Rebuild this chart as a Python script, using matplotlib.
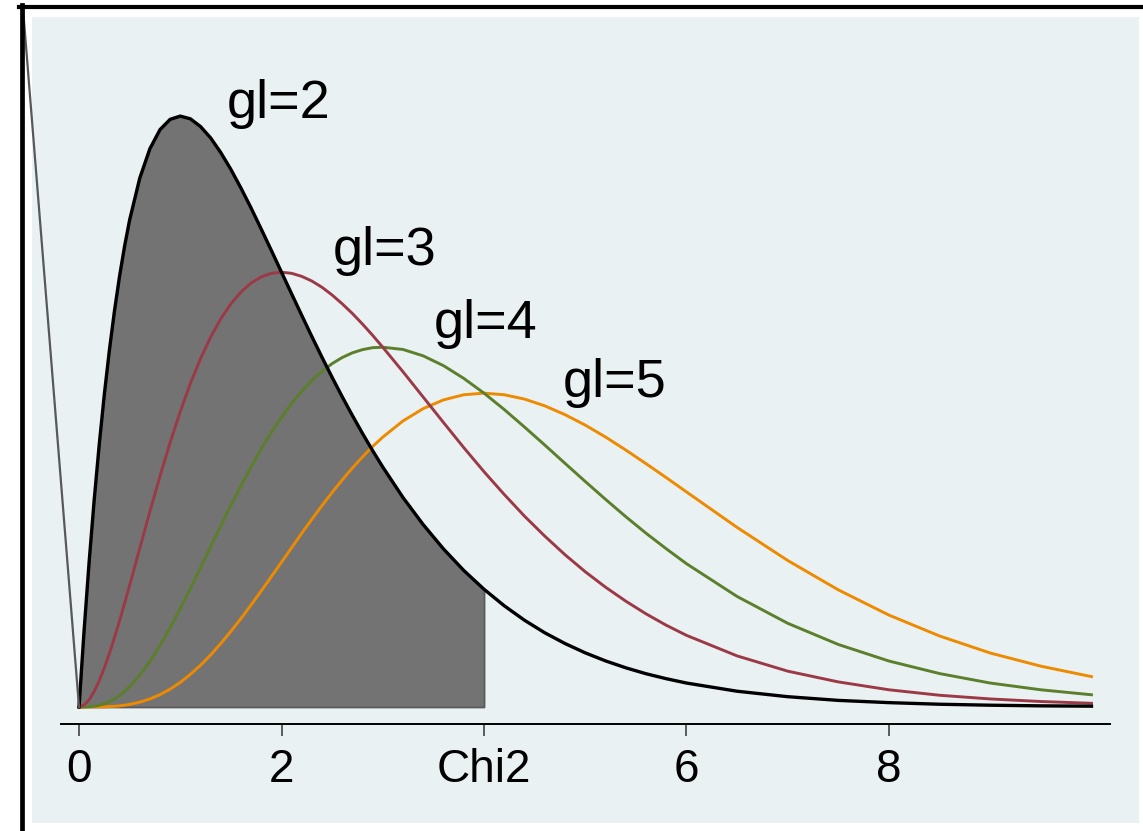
import numpy as np
import matplotlib
matplotlib.use("Agg")
import matplotlib.pyplot as plt
from matplotlib.patches import Rectangle
from matplotlib.lines import Line2D

plt.rcParams['font.family'] = ['Liberation Sans', 'DejaVu Sans']

# values (density scale, x from 0 to 10)
x = [0.0, 0.05, 0.1, 0.15, 0.2, 0.25, 0.3, 0.35, 0.4, 0.45, 0.5,
     0.6, 0.7, 0.8, 0.9, 1.0, 1.1, 1.2, 1.3, 1.4, 1.5, 1.6, 1.7, 1.8, 1.9,
     2.0, 2.1, 2.2, 2.3, 2.4, 2.5, 2.6, 2.7, 2.8, 2.9, 3.0,
     3.2, 3.4, 3.6, 3.8, 4.0, 4.2, 4.4, 4.6, 4.8, 5.0, 5.2, 5.4, 5.6, 5.8, 6.0,
     6.5, 7.0, 7.5, 8.0, 8.5, 9.0, 9.5, 10.0]
gl2 = [0.0, 0.0476, 0.0905, 0.1291, 0.1637, 0.1947, 0.2222, 0.2466, 0.2681, 0.2869, 0.3033,
       0.3293, 0.3476, 0.3595, 0.3659, 0.3679, 0.3662, 0.3614, 0.3543, 0.3452, 0.3347,
       0.3230, 0.3106, 0.2975, 0.2842, 0.2707, 0.2572, 0.2438, 0.2306, 0.2177, 0.2052,
       0.1931, 0.1815, 0.1703, 0.1596, 0.1494,
       0.1304, 0.1135, 0.0984, 0.0850, 0.0733, 0.0630, 0.0540, 0.0462, 0.0395, 0.0337,
       0.0287, 0.0244, 0.0207, 0.0176, 0.0149,
       0.0098, 0.0064, 0.0041, 0.0027, 0.0017, 0.0011, 0.0007, 0.0005]
gl3 = [0.0, 0.0012, 0.0045, 0.0097, 0.0164, 0.0243, 0.0333, 0.0432, 0.0536, 0.0646, 0.0758,
       0.0988, 0.1217, 0.1438, 0.1647, 0.1839, 0.2014, 0.2169, 0.2303, 0.2417, 0.2510,
       0.2584, 0.2640, 0.2678, 0.2700, 0.2707, 0.2700, 0.2681, 0.2652, 0.2613, 0.2565,
       0.2510, 0.2450, 0.2384, 0.2314, 0.2240,
       0.2087, 0.1929, 0.1771, 0.1615, 0.1465, 0.1323, 0.1188, 0.1064, 0.0948, 0.0842,
       0.0746, 0.0659, 0.0580, 0.0509, 0.0446,
       0.0318, 0.0223, 0.0156, 0.0107, 0.0073, 0.0050, 0.0034, 0.0023]
gl4 = [0.0, 0.0, 0.0002, 0.0005, 0.0011, 0.0020, 0.0033, 0.0050, 0.0072, 0.0097, 0.0126,
       0.0198, 0.0284, 0.0383, 0.0494, 0.0613, 0.0738, 0.0867, 0.0998, 0.1128, 0.1255,
       0.1378, 0.1496, 0.1607, 0.1710, 0.1804, 0.1890, 0.1966, 0.2033, 0.2090, 0.2138,
       0.2176, 0.2205, 0.2225, 0.2237, 0.2240,
       0.2226, 0.2186, 0.2125, 0.2046, 0.1954, 0.1852, 0.1743, 0.1631, 0.1517, 0.1404,
       0.1293, 0.1185, 0.1082, 0.0985, 0.0892,
       0.0688, 0.0521, 0.0389, 0.0286, 0.0208, 0.0149, 0.0107, 0.0076]
gl5 = [0.0, 0.0, 0.0, 0.0, 0.0001, 0.0001, 0.0003, 0.0004, 0.0007, 0.0011, 0.0016,
       0.0030, 0.0050, 0.0077, 0.0111, 0.0153, 0.0203, 0.0260, 0.0324, 0.0395, 0.0471,
       0.0551, 0.0636, 0.0723, 0.0812, 0.0902, 0.0992, 0.1082, 0.1169, 0.1254, 0.1336,
       0.1414, 0.1488, 0.1557, 0.1622, 0.1680,
       0.1781, 0.1858, 0.1912, 0.1944, 0.1954, 0.1944, 0.1917, 0.1875, 0.1820, 0.1755,
       0.1681, 0.1600, 0.1515, 0.1428, 0.1339,
       0.1118, 0.0912, 0.0729, 0.0572, 0.0442, 0.0336, 0.0254, 0.0189]

tick_pos = [0, 2, 4, 6, 8]
tick_labels = ['0', '2', 'Chi2', '6', '8']
labels = ['gl=2', 'gl=3', 'gl=4', 'gl=5']
label_x = [1.46, 2.51, 3.50, 4.78]
label_y = [0.367, 0.275, 0.230, 0.193]
shade_to = 4.0

W, H = 1143, 831
fig = plt.figure(figsize=(W / 100, H / 100), dpi=100)
fig.patch.set_facecolor('white')

# plot region background and outer frame
fig.patches.append(Rectangle((32 / W, 1 - 823 / H), (1139 - 32) / W, (823 - 17) / H,
                             transform=fig.transFigure, facecolor='#e9f1f3',
                             edgecolor='none', zorder=-10))
fig.lines.append(Line2D([19 / W, 1.0], [1 - 7 / H, 1 - 7 / H], transform=fig.transFigure,
                        color='black', lw=3.0, zorder=10))
fig.lines.append(Line2D([21.5 / W, 21.5 / W], [0.0, 1 - 5 / H], transform=fig.transFigure,
                        color='black', lw=3.4, zorder=10))

ax = fig.add_axes([61 / W, 1 - 724 / H, 1049 / W, (724 - 17) / H])
ax.set_facecolor('none')
ax.set_xlim(-0.178, 10.183)
ax.set_ylim(-0.0106, 0.4296)

xa = np.array(x)
ya = np.array(gl2)
m = xa <= shade_to
ax.fill_between(xa[m], ya[m], 0, facecolor='#737373', edgecolor='#5a5a5a', lw=1.3, zorder=1)

ax.plot(x, gl5, color='#ee8a00', lw=2.1, zorder=2)
ax.plot(x, gl4, color='#5b7f2b', lw=2.1, zorder=3)
ax.plot(x, gl3, color='#9b3a46', lw=2.1, zorder=4)
ax.plot(x, gl2, color='black', lw=2.4, zorder=5)

# the stray line from the frame corner down to the origin
ax.plot([-0.553, 0], [0.4346, 0], color='#585858', lw=1.6, clip_on=False, zorder=5)

for t, lx, ly in zip(labels, label_x, label_y):
    ax.text(lx, ly, t, fontsize=39, ha='left', va='baseline', color='black')

for s in ['left', 'right', 'top']:
    ax.spines[s].set_visible(False)
ax.spines['bottom'].set_linewidth(1.4)
ax.set_yticks([])
ax.set_xticks(tick_pos)
ax.set_xticklabels(tick_labels)
ax.tick_params(axis='x', length=8.6, width=1.1, pad=9, labelsize=33, color='#333333')

fig.savefig('out.png', dpi=100, facecolor='white')
